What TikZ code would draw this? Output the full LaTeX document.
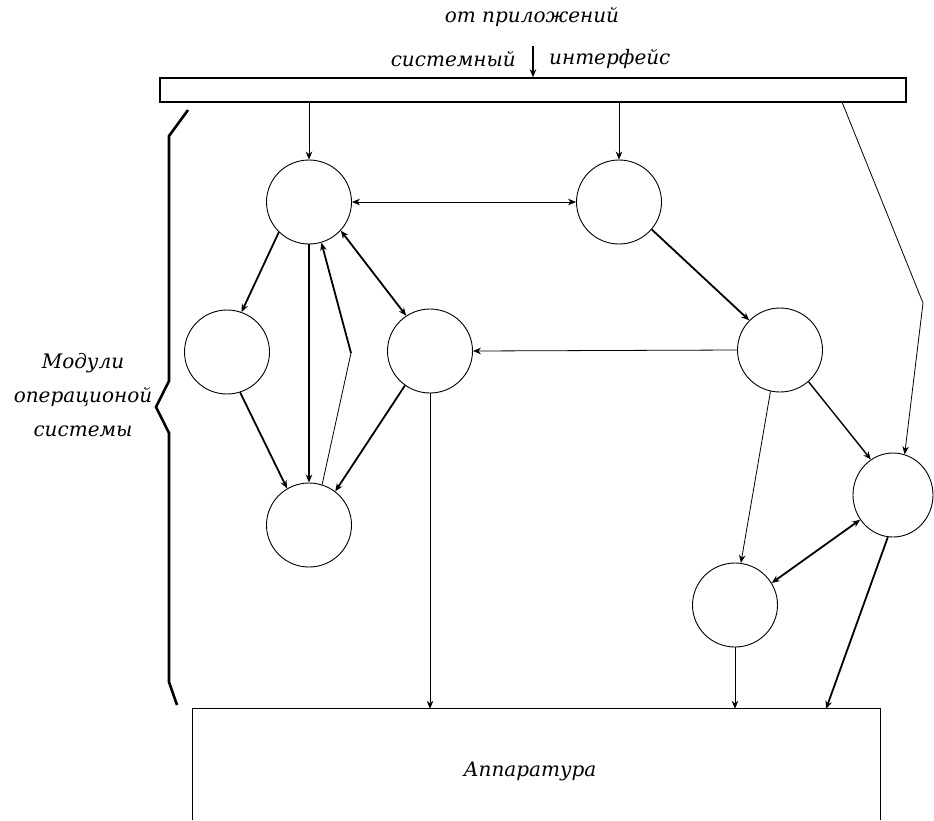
\documentclass[tikz,border=0pt]{standalone}
\usepackage{fontspec}
\setmainfont{DejaVu Serif}
\usetikzlibrary{arrows.meta,shapes.geometric,calc}
\begin{document}
\begin{tikzpicture}[x=1pt,y=-1pt,
  mod/.style={draw,ellipse,line width=0.9pt,minimum width=85pt,minimum height=84pt,inner sep=0pt},
  lab/.style={font=\fontsize{20}{34}\selectfont\itshape,inner sep=0pt},
  tip/.style={-{Stealth[length=8pt,width=6.5pt]}},
  dtip/.style={{Stealth[length=8pt,width=6.5pt]}-{Stealth[length=8pt,width=6.5pt]}},
  thin/.style={line width=0.8pt},
  thk/.style={line width=1.8pt}]
\useasboundingbox (0,0) rectangle (934,820);
% top texts
\node[lab] (from) at (532,17) {от приложений};
\node[lab,anchor=east] (sys) at (516,59) {системный};
\node[lab,anchor=west] (intf) at (549,59) {интерфейс};
% interface bar
\node[draw,line width=1.4pt,minimum width=746pt,minimum height=24pt,inner sep=0pt] (bar) at (533,90) {};
\coordinate (src) at (533,46);
\draw[thk,tip] (src) -- (src |- bar.north);
% hardware
\node[minimum width=687pt,minimum height=111pt,inner sep=0pt] (App) at (536.5,764.5) {};
\draw[line width=1.1pt] (App.south west) -- (App.north west) -- (App.north east) -- (App.south east);
\node[lab] (apptext) at (530,771) {Аппаратура};
% modules
\node[mod] (C1) at (309,202) {};
\node[mod] (C2) at (619,202) {};
\node[mod] (C3) at (227,352) {};
\node[mod] (C4) at (430,351) {};
\node[mod] (C5) at (780,350) {};
\node[mod] (C6) at (309,525) {};
\node[mod] (C7) at (735,605) {};
\node[mod,minimum width=80pt] (C8) at (893,495) {};
% brace and its label
\draw[line width=2.6pt,line join=miter] (188,110) -- (169,136) -- (169,381) -- (156,407) -- (169,433) -- (169,682) -- (177,705);
\node[lab,align=center] (mtext) at (83,395) {Модули\\операционой\\системы};
% connectors
\draw[thin,tip] (C1.north |- bar.south) -- (C1.north);
\draw[thin,tip] (C2.north |- bar.south) -- (C2.north);
\coordinate (b8) at (842,102);
\coordinate (k8) at (923,303);
\draw[thin,tip] (b8) -- (k8) -- (C8.74);
\draw[thin,dtip] (C1.east) -- (C2.west);
\draw[thk,tip] (C1.225) -- (C3.70);
\draw[thk,tip] (C1.south) -- (C6.north);
\coordinate (k1) at (351,353);
\draw[thin] (C6.72) -- (k1);
\draw[thk,tip] (k1) -- (C1.287);
\draw[thk,dtip] (C1.318) -- (C4.124);
\draw[thk,tip] (C3.288) -- (C6.121);
\draw[thk,tip] (C4.234) -- (C6.52);
\draw[thin,tip] (C5.west) -- (C4.east);
\draw[thin,tip] (C4.south) -- (C4.south |- App.north);
\draw[thk,tip] (C2.320) -- (C5.136);
\draw[line width=1.4pt,tip] (C5.312) -- (C8.122);
\draw[thin,tip] (C5.257) -- (C7.82);
\draw[thk,dtip] (C8.217) -- (C7.31);
\draw[thin,tip] (C7.south) -- (C7.south |- App.north);
\coordinate (a8) at (826,709);
\draw[thk,tip] (C8.263) -- (a8);
\end{tikzpicture}
\end{document}
